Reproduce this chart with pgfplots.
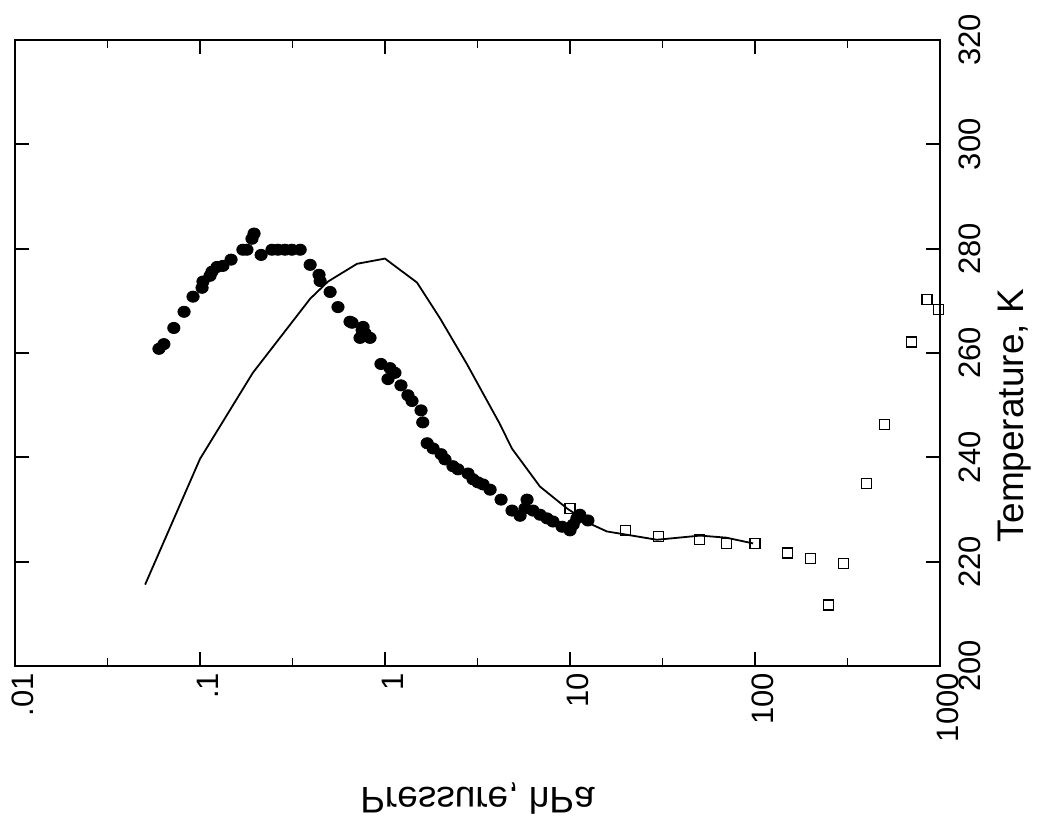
\documentclass[border=0pt]{standalone}
\usepackage{fontspec}
\setmainfont{Liberation Sans}
\usepackage{pgfplots}
\pgfplotsset{compat=1.18}
\begin{document}
\begin{tikzpicture}
\path[use as bounding box] (-7.5pt,-79.5pt) rectangle (511pt,333pt);
\begin{axis}[
  at={(0,0)}, anchor=south west,
  scale only axis, width=462.5pt, height=313pt,
  xmode=log, xmin=0.01, xmax=1000,
  ymin=200, ymax=320,
  xtick={0.01,0.1,1,10,100,1000},
  xticklabels={.01,.1,1,10,100,1000},
  minor xtick={0.0316,0.316,3.16,31.6,316},
  ytick={200,220,240,260,280,300,320},
  yticklabel pos=right,
  /pgf/number format/assume math mode=true,
  tick align=inside,
  major tick length=7pt, minor tick length=4pt,
  every tick/.style={black, line width=0.9pt},
  axis line style={line width=1pt},
  x tick label style={font=\fontsize{15.5}{18}\selectfont, rotate=90, anchor=east, yshift=-4pt},
  y tick label style={font=\fontsize{15.5}{18}\selectfont, rotate=90, anchor=north, yshift=-6pt},
  clip=false,
]
\addplot[black, line width=0.9pt, no marks] coordinates {
(0.0505,215.6) (0.1,239.7) (0.193,256.2) (0.394,270.4) (0.492,273.7) (0.706,277.1)
(1.0,278.1) (1.49,273.5) (1.98,266.7) (2.77,257.9) (4.19,246.3) (4.85,241.7)
(6.88,234.4) (9.64,230.2) (12.8,227.3) (15.8,225.8) (29.5,224.2) (50.5,225.0)
(70,224.6) (97.7,223.5)
};
\addplot[only marks, mark=*, mark size=2.8pt, black, mark options={xscale=1.1}] coordinates {
(0.060,260.8) (0.0638,261.7) (0.0722,264.8) (0.0820,267.9) (0.0917,270.8)
(0.1026,272.5) (0.1038,273.7) (0.1133,274.8) (0.1161,275.6) (0.1236,276.5)
(0.1330,276.7) (0.1472,277.9) (0.1706,279.8) (0.1794,279.8) (0.191,281.9)
(0.196,282.9) (0.214,278.8) (0.245,279.8) (0.264,279.8) (0.288,279.8)
(0.314,279.8) (0.348,279.8) (0.394,276.9) (0.440,275.0) (0.446,273.8)
(0.505,271.7) (0.557,268.8) (0.647,266.0) (0.664,265.8) (0.752,264.4)
(0.761,265.0) (0.780,263.8) (0.733,262.9) (0.830,262.9) (0.951,257.9)
(1.064,257.1) (1.132,256.2) (1.038,255.0) (1.220,253.8) (1.330,251.9)
(1.40,250.8) (1.566,249.0) (1.60,246.7) (1.69,242.7) (1.82,241.7)
(2.01,240.6) (2.11,239.6) (2.33,238.3) (2.48,237.7) (2.81,236.9)
(2.99,235.8) (3.18,235.2) (3.39,234.8) (3.70,233.8) (4.24,231.9)
(4.86,229.8) (5.37,228.8) (5.86,231.9) (5.71,230.2) (6.31,229.8)
(6.89,229.0) (7.51,228.3) (8.09,227.7) (9.06,226.7) (10.0,226.0)
(10.4,227.1) (10.9,228.3) (11.3,229.0) (12.5,227.9)
};
\addplot[only marks, mark=square, mark size=2.5pt, black, mark options={line width=0.7pt}] coordinates {
(10,230.2) (20,226.0) (30,224.8) (50,224.2) (70,223.5) (100,223.5)
(150,221.7) (200,220.6) (300,219.6) (250,211.7) (400,235.0) (500,246.3)
(700,262.1) (850,270.2) (980,268.3)
};
\node[rotate=90, font=\fontsize{18.5}{22}\selectfont] at (axis description cs:1.081,0.40) {Temperature, K};
\node[yscale=-1, font=\fontsize{18.5}{22}\selectfont] at (axis description cs:0.50,-0.212) {Pressure, hPa};
\end{axis}
\end{tikzpicture}
\end{document}
